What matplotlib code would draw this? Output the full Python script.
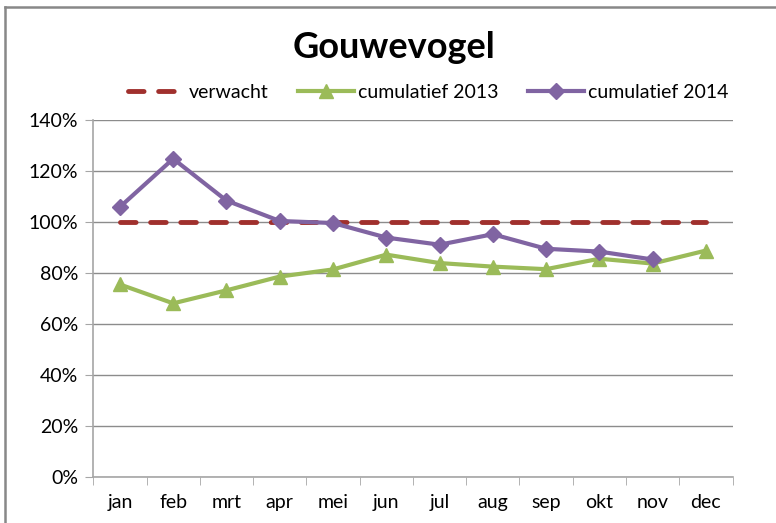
import matplotlib
matplotlib.use("Agg")
import matplotlib.pyplot as plt
from matplotlib.ticker import FixedLocator, FuncFormatter, MultipleLocator
from matplotlib.lines import Line2D
import numpy as np

plt.rcParams['font.family'] = ['Lato', 'DejaVu Sans']

months = ['jan', 'feb', 'mrt', 'apr', 'mei', 'jun', 'jul', 'aug', 'sep', 'okt', 'nov', 'dec']
verwacht = [100] * 12
cum2013 = [75.5, 68.1, 73.2, 78.6, 81.4, 87.2, 83.9, 82.5, 81.5, 85.6, 83.7, 88.8]
cum2014 = [105.9, 124.8, 108.4, 100.4, 99.6, 93.9, 91.1, 95.2, 89.5, 88.4, 85.3]

fig = plt.figure(figsize=(7.76, 5.23), dpi=100)
ax = fig.add_axes([93.3/776, 1-477/523, (732.5-93.3)/776, (477-120)/523])

x = np.arange(len(months))
ax.plot(x, verwacht, color='#A0302D', lw=3.5, dashes=(3.2, 3.0), dash_capstyle='round',
        label='verwacht', zorder=3)
ax.plot(x, cum2013, color='#9BBB59', lw=3, marker='^', ms=10, label='cumulatief 2013', zorder=4)
ax.plot(np.arange(len(cum2014)), cum2014, color='#8064A2', lw=3, marker='D', ms=8,
        label='cumulatief 2014', zorder=5)

ax.set_xlim(-0.5, 11.5)
ax.set_ylim(0, 140)
ax.yaxis.set_major_locator(MultipleLocator(20))
ax.yaxis.set_major_formatter(FuncFormatter(lambda v, p: f"{int(v)}%"))
ax.set_xticks(x)
ax.set_xticklabels(months)
ax.xaxis.set_minor_locator(FixedLocator(np.arange(-0.5, 12, 1)))
ax.tick_params(axis='x', which='major', length=0, pad=12, labelsize=14)
ax.tick_params(axis='x', which='minor', length=6, color='#A6A6A6')
ax.tick_params(axis='y', which='major', length=6, color='#A6A6A6', labelsize=14, pad=5)
ax.grid(axis='y', color='#8C8C8C', lw=1)
ax.set_axisbelow(True)
for s in ['top', 'right']:
    ax.spines[s].set_visible(False)
for s in ['left', 'bottom']:
    ax.spines[s].set_color('#A6A6A6')
    ax.spines[s].set_linewidth(1.2)

fig.text(0.508, 1-48/523, 'Gouwevogel', ha='center', va='center', fontsize=26, fontweight='bold')
leg = fig.legend(loc='center', bbox_to_anchor=(0.552, 1-92/523), ncol=3, frameon=False,
                 fontsize=14, handlelength=2.9, columnspacing=1.5, handletextpad=0.2)

fig.lines.append(Line2D([5/776, 1.0], [1-7/523, 1-7/523], transform=fig.transFigure,
                        color='#888888', lw=1.8))
fig.lines.append(Line2D([5/776, 5/776], [0, 1-7/523], transform=fig.transFigure,
                        color='#888888', lw=1.8))

fig.savefig('out.png', dpi=100)
